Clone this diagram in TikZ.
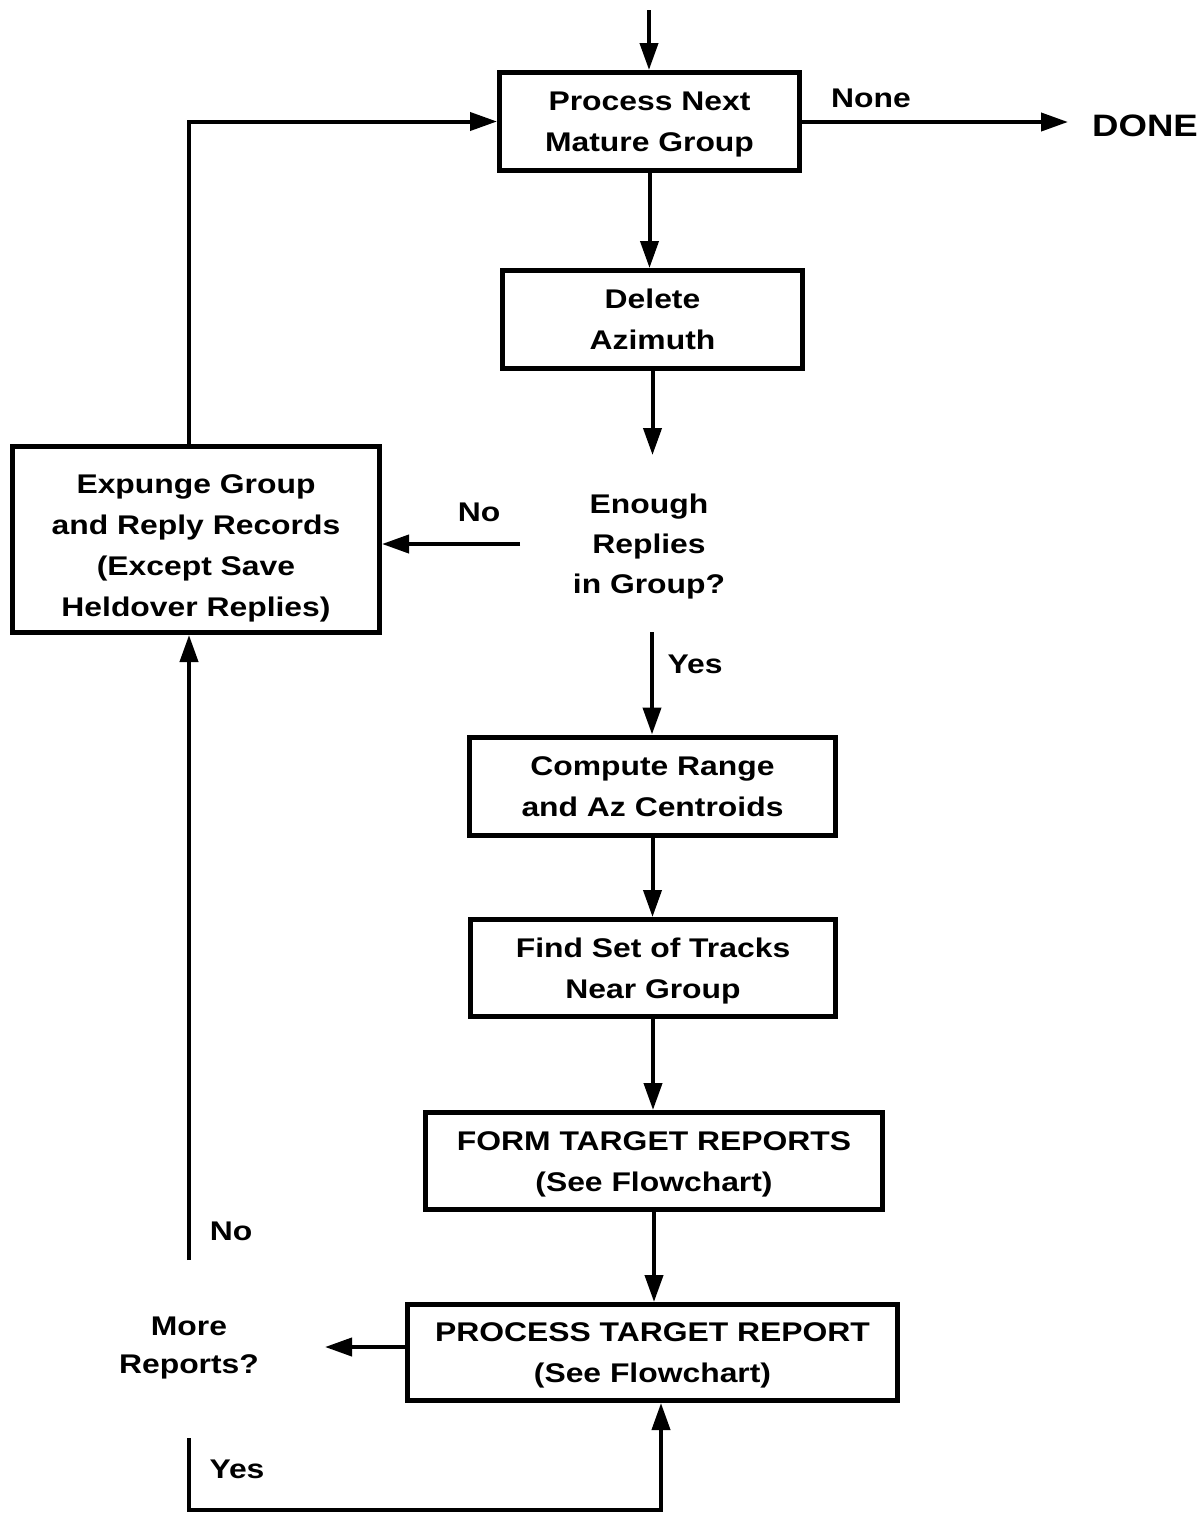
\documentclass[tikz,border=0pt]{standalone}
\usepackage{fontspec}
\setmainfont{Liberation Sans}[FakeStretch=1.18]
\usetikzlibrary{arrows.meta}
\begin{document}
\begin{tikzpicture}[x=1pt,y=-1pt,
  txt/.style={font=\fontsize{27}{41}\selectfont\bfseries, align=center, inner sep=0pt,
    text depth=0pt},
  twoline/.style={text height=60.5pt},
  stepbox/.style={txt, draw, line width=5pt, minimum width=#1, minimum height=98pt},
  lbl/.style={font=\fontsize{27}{41}\selectfont\bfseries, inner sep=0pt},
  arr/.style={line width=4pt, -{Triangle[length=27pt,width=18pt]}}]
\useasboundingbox (0,0) rectangle (1203,1513);

% process boxes
\node[stepbox=300pt, twoline] (b1) at (649.5,121.5) {Process Next\\Mature Group};
\node[stepbox=300pt, twoline] (b2) at (652.5,319.5) {Delete\\Azimuth};
\node[stepbox=367pt, minimum height=186pt, text height=154pt] (ex) at (196,539.5)
  {Expunge Group\\and Reply Records\\(Except Save\\Heldover Replies)};
\node[stepbox=366pt, twoline] (b3) at (652.5,786) {Compute Range\\and Az Centroids};
\node[stepbox=365pt, minimum height=97pt, twoline] (b4) at (653,968) {Find Set of Tracks\\Near Group};
\node[stepbox=457pt, minimum height=97pt, twoline] (b5) at (654,1161) {FORM TARGET REPORTS\\(See Flowchart)};
\node[stepbox=490pt, minimum height=96pt, twoline] (b6) at (652.5,1352.5) {PROCESS TARGET REPORT\\(See Flowchart)};

% decisions
\node[txt, font=\fontsize{27}{40}\selectfont\bfseries, text height=99.5pt] (d1) at (649,544) {Enough\\Replies\\in Group?};
\node[txt, font=\fontsize{27}{38}\selectfont\bfseries, text height=57.5pt] (d2) at (189,1345) {More\\Reports?};

% end label
\node[lbl, font=\fontsize{31}{40}\selectfont\bfseries] (done) at (1145,126) {DONE};

% connector end points
\coordinate (entry) at (649,10);
\coordinate (q1) at (652,455);
\coordinate (q2) at (652,632);
\coordinate (n1) at (520,544);
\coordinate (lx) at (189,0);
\coordinate (m1) at (325,1347);
\coordinate (no2) at (189,1260);
\coordinate (y2) at (189,1438);
\coordinate (y2b) at (189,1510);
\coordinate (rx) at (661,0);
\coordinate (dn) at (1068,122);

% connectors
\draw[arr] (entry) -- (entry |- b1.north);
\draw[arr] (b1.south) -- (b1.south |- b2.north);
\draw[arr] (b2.south) -- (b2.south |- q1);
\draw[arr] (q2) -- (q2 |- b3.north);
\draw[arr] (n1) -- (n1 -| ex.east);
\draw[arr] (lx |- ex.north) -- (lx |- b1.west) -- (b1.west);
\draw[arr] (b3.south) -- (b3.south |- b4.north);
\draw[arr] (b4.south) -- (b4.south |- b5.north);
\draw[arr] (b5.south) -- (b5.south |- b6.north);
\draw[arr] (m1 -| b6.west) -- (m1);
\draw[arr] (no2) -- (lx |- ex.south);
\draw[arr] (y2) -- (y2b) -- (rx |- y2b) -- (rx |- b6.south);
\draw[arr] (b1.east |- dn) -- (dn);

% branch labels
\node[lbl] (lnone) at (871,98) {None};
\node[lbl] (lno1) at (479,512) {No};
\node[lbl] (lyes1) at (695,664) {Yes};
\node[lbl] (lno2) at (231,1231) {No};
\node[lbl] (lyes2) at (237,1469) {Yes};
\end{tikzpicture}
\end{document}
